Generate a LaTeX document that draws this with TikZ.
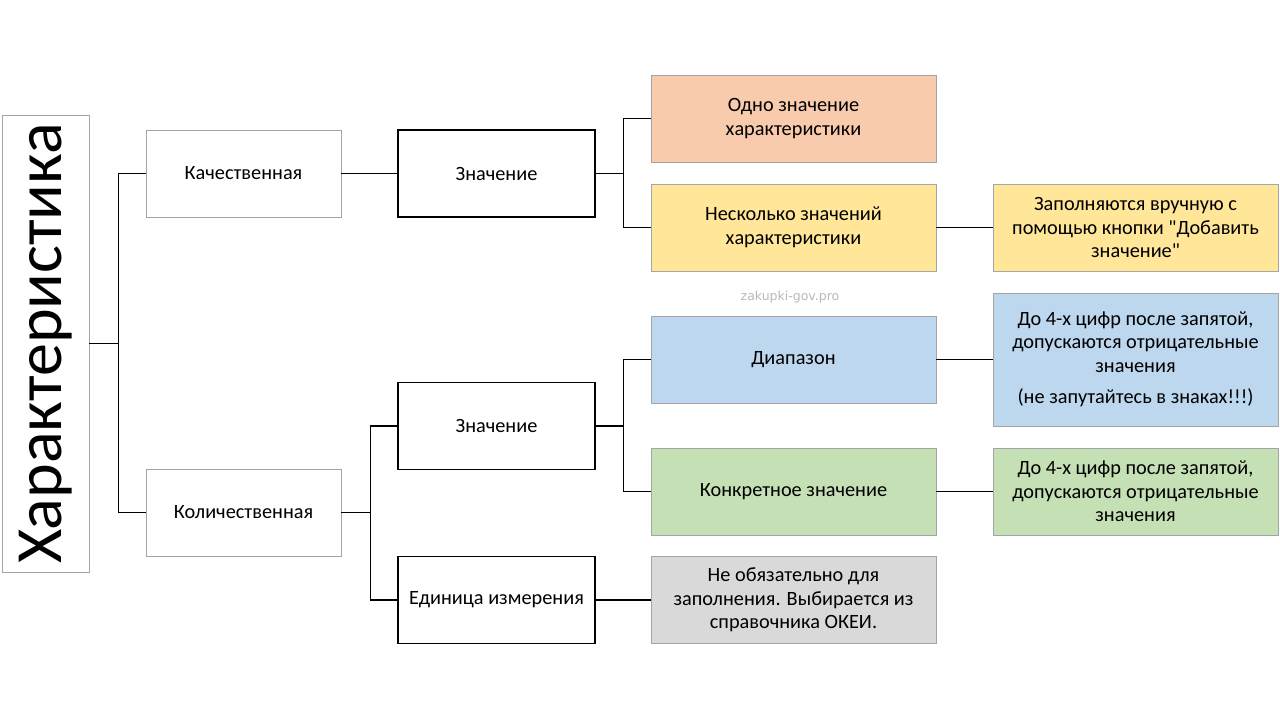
\documentclass[tikz,border=0pt]{standalone}
\usepackage{fontspec}
\setmainfont{Carlito}
\newfontfamily\qfont{Carlito}
\newfontfamily\wmfont{DejaVu Sans}
\definecolor{boxgray}{HTML}{A5A5A5}
\definecolor{peach}{HTML}{F8CBAD}
\definecolor{yel}{HTML}{FFE699}
\definecolor{blu}{HTML}{BDD7EE}
\definecolor{grn}{HTML}{C5E0B4}
\definecolor{gry}{HTML}{D9D9D9}
\definecolor{wm}{HTML}{B8B8B8}
\tikzset{
  box/.style={draw=boxgray, line width=0.9pt, minimum width=195pt, minimum height=87pt,
    align=center, font=\fontsize{20.3}{23.5}\selectfont, inner sep=2pt},
  blackbox/.style={box, draw=black, line width=1.3pt, minimum width=197pt},
  wide/.style={box, minimum width=285pt},
  conn/.style={draw=black, line width=1.3pt},
}
\newcommand{\dq}{{\qfont"}}
\begin{document}
\begin{tikzpicture}[x=1pt,y=-1pt]
\useasboundingbox (0,0) rectangle (1280,720);
\node[box, minimum width=87pt, minimum height=457pt] (root) at (45.5,343.5) {};
\node[rotate=90, font=\fontsize{66}{70}\selectfont] (roottext) at (root.center) {Характеристика};
\node[box] (kach) at (243.5,173.5) {Качественная};
\node[box] (kol) at (243.5,512.5) {Количественная};
\node[blackbox] (zn1) at (496.5,173.5) {Значение};
\node[blackbox] (zn2) at (496.5,426) {Значение};
\node[blackbox] (ed) at (496.5,600) {Единица измерения};
\node[wide, fill=peach] (odno) at (793.5,118.5) {Одно значение\\характеристики};
\node[wide, fill=yel] (nesk) at (793.5,227.5) {Несколько значений\\характеристики};
\node[wide, fill=yel] (zap) at (1135.5,227.5) {Заполняются вручную с\\помощью кнопки \dq Добавить\\значение\dq};
\node[wide, fill=blu] (diap) at (793.5,359.5) {Диапазон};
\node[wide, fill=blu, minimum height=133pt] (diapt) at (1135.5,359.5) {До 4-х цифр после запятой,\\допускаются отрицательные\\значения\\[8pt](не запутайтесь в знаках!!!)};
\node[wide, fill=grn] (konk) at (793.5,491.5) {Конкретное значение};
\node[wide, fill=grn] (konkt) at (1135.5,491.5) {До 4-х цифр после запятой,\\допускаются отрицательные\\значения};
\node[wide, fill=gry] (neob) at (793.5,600) {Не обязательно для\\заполнения. Выбирается из\\справочника ОКЕИ.};
\node[text=wm, font=\wmfont\fontsize{12.5}{14}\selectfont] (wmark) at (790,297) {zakupki-gov.pro};
% connectors
\draw[conn] (root.east) -- +(29,0) |- (kach.west);
\draw[conn] (root.east) -- +(29,0) |- (kol.west);
\draw[conn] (kach.east) -- (zn1.west);
\draw[conn] (kol.east) -- +(29,0) |- (zn2.west);
\draw[conn] (kol.east) -- +(29,0) |- (ed.west);
\draw[conn] (zn1.east) -- +(28,0) |- (odno.west);
\draw[conn] (zn1.east) -- +(28,0) |- (nesk.west);
\draw[conn] (zn2.east) -- +(28,0) |- (diap.west);
\draw[conn] (zn2.east) -- +(28,0) |- (konk.west);
\draw[conn] (nesk.east) -- (zap.west);
\draw[conn] (diap.east) -- (diapt.west);
\draw[conn] (konk.east) -- (konkt.west);
\draw[conn] (ed.east) -- (neob.west);
\end{tikzpicture}
\end{document}
